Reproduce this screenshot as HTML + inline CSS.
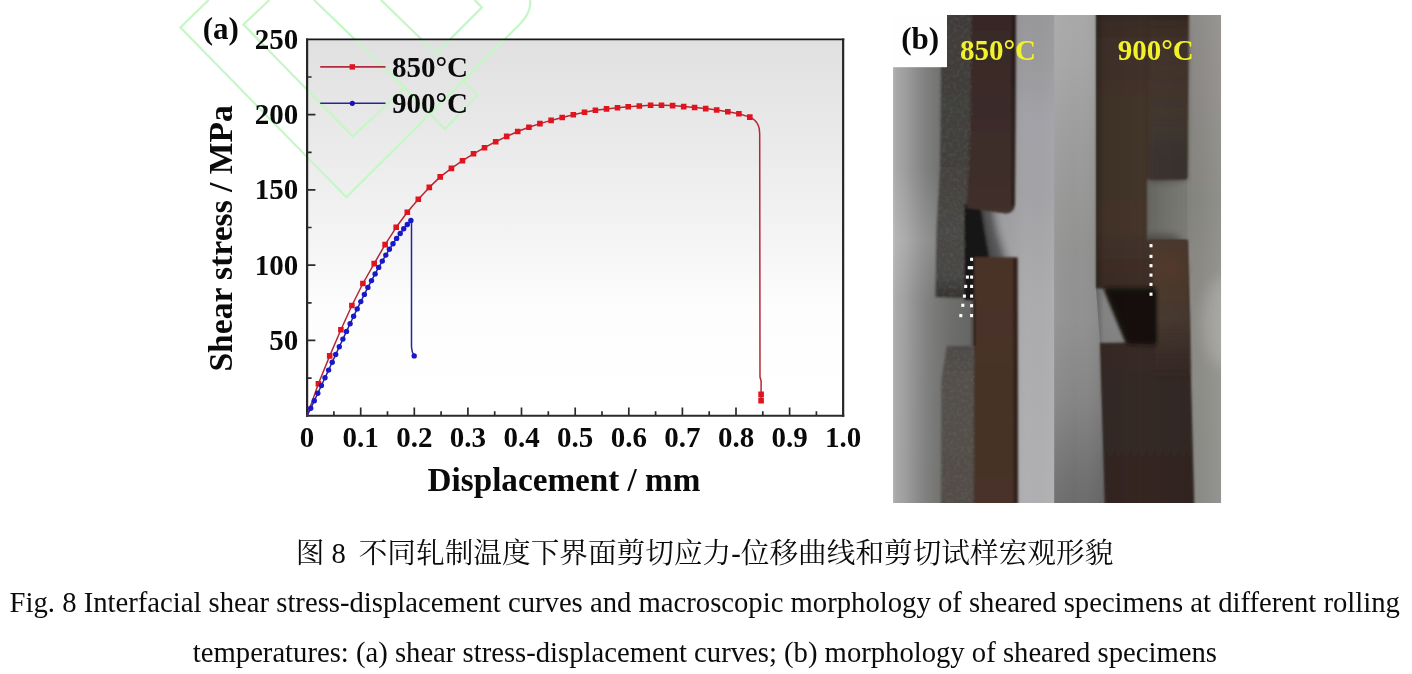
<!DOCTYPE html>
<html lang="zh">
<head>
<meta charset="utf-8">
<title>Fig. 8</title>
<style>
html,body{margin:0;padding:0;background:#ffffff;}
body{width:1412px;height:674px;position:relative;overflow:hidden;font-family:"Liberation Serif","Noto Serif CJK SC",serif;}
svg{position:absolute;left:0;top:0;display:block;}
</style>
</head>
<body>
<svg width="1412" height="674" viewBox="0 0 1412 674">
<defs>
<linearGradient id="pbg" x1="0" y1="0" x2="0" y2="1"><stop offset="0" stop-color="#e0e0e0"/><stop offset="0.3" stop-color="#ebebeb"/><stop offset="0.55" stop-color="#f5f5f5"/><stop offset="0.72" stop-color="#fdfdfd"/><stop offset="1" stop-color="#ffffff"/></linearGradient>
</defs>
<rect x="307.1" y="39.4" width="536.1" height="376.3" fill="url(#pbg)"/>
<g fill="none" stroke="#c6f6c6" stroke-width="2.2" stroke-linejoin="miter">
<path d="M208.6,0 L180.4,27.4 L346.4,197.3 L520,24 Q532,11 530,0"/>
<path d="M269.4,0 L243.4,24.5 L352.9,136.5 L404.8,87.5 L314,0"/>
<path d="M404.8,87.5 L444.9,129.1 L477.5,95 L461,78.5 M437,54.5 L381,0"/>
<path d="M436,53.4 L482,7.4 L474.5,0"/>
</g>
<path d="M306,39.4 H844.3" stroke="#161616" stroke-width="1.7" fill="none"/>
<path d="M307.1,38.6 V416.8 M843.15,38.6 V416.8" stroke="#262626" stroke-width="2.2" fill="none"/>
<path d="M306,415.8 H844.3" stroke="#2a2a2a" stroke-width="2" fill="none"/>
<path d="M333.9,415.7 v-4.5 M360.7,415.7 v-8.3 M387.5,415.7 v-4.5 M414.3,415.7 v-8.3 M441.1,415.7 v-4.5 M467.9,415.7 v-8.3 M494.7,415.7 v-4.5 M521.5,415.7 v-8.3 M548.3,415.7 v-4.5 M575.2,415.7 v-8.3 M602.0,415.7 v-4.5 M628.8,415.7 v-8.3 M655.6,415.7 v-4.5 M682.4,415.7 v-8.3 M709.2,415.7 v-4.5 M736.0,415.7 v-8.3 M762.8,415.7 v-4.5 M789.6,415.7 v-8.3 M816.4,415.7 v-4.5 M307.1,378.1 h4.5 M307.1,340.4 h8.3 M307.1,302.8 h4.5 M307.1,265.2 h8.3 M307.1,227.5 h4.5 M307.1,189.9 h8.3 M307.1,152.3 h4.5 M307.1,114.7 h8.3 M307.1,77.0 h4.5" stroke="#2a2a2a" stroke-width="1.7" fill="none"/>
<g font-family="'Liberation Serif', serif" font-weight="bold" font-size="29px" fill="#0a0a0a">
<text x="307.1" y="447.3" text-anchor="middle">0</text>
<text x="360.7" y="447.3" text-anchor="middle">0.1</text>
<text x="414.3" y="447.3" text-anchor="middle">0.2</text>
<text x="467.9" y="447.3" text-anchor="middle">0.3</text>
<text x="521.5" y="447.3" text-anchor="middle">0.4</text>
<text x="575.2" y="447.3" text-anchor="middle">0.5</text>
<text x="628.8" y="447.3" text-anchor="middle">0.6</text>
<text x="682.4" y="447.3" text-anchor="middle">0.7</text>
<text x="736.0" y="447.3" text-anchor="middle">0.8</text>
<text x="789.6" y="447.3" text-anchor="middle">0.9</text>
<text x="843.2" y="447.3" text-anchor="middle">1.0</text>
<text x="298.3" y="349.7" text-anchor="end">50</text>
<text x="298.3" y="274.5" text-anchor="end">100</text>
<text x="298.3" y="199.2" text-anchor="end">150</text>
<text x="298.3" y="124.0" text-anchor="end">200</text>
<text x="298.3" y="48.7" text-anchor="end">250</text>
<text x="202.8" y="39.4" font-size="31px">(a)</text>
<text x="392" y="76.8">850°C</text>
<text x="392" y="113.2">900°C</text>
</g>
<g font-family="'Liberation Serif', serif" font-weight="bold" font-size="33.2px" fill="#0a0a0a">
<text x="564" y="490.6" text-anchor="middle">Displacement / mm</text>
<text transform="translate(232.1,238.4) rotate(-90)" text-anchor="middle" font-size="33.6px">Shear stress / MPa</text>
</g>
<path d="M320.2,66.9 H385.5" stroke="#b02c3a" stroke-width="1.6"/>
<rect x="349.6" y="64.2" width="5.4" height="5.4" fill="#de1622"/>
<path d="M320.2,103.3 H385.5" stroke="#26268e" stroke-width="1.6"/>
<circle cx="352.3" cy="103.3" r="2.6" fill="#1a10b4"/>
<polyline points="307.1,415.7 318.4,383.8 329.7,355.9 340.9,329.8 351.9,305.5 362.9,283.5 374.2,263.6 385.1,244.6 396.2,227.3 407.3,212.3 418.3,199.3 429.3,187.4 440.2,176.9 451.4,168.4 462.5,160.7 473.5,153.8 484.5,147.7 495.7,141.7 506.7,136.4 517.7,131.5 528.9,127.3 539.9,123.6 551.1,120.4 562.2,117.5 573.3,114.7 584.5,112.2 595.4,110.3 606.5,108.9 617.5,107.7 628.2,106.8 639.3,106.0 650.6,105.3 661.5,105.2 672.6,105.6 683.7,106.6 694.6,107.5 705.7,108.6 716.7,110.0 727.8,111.7 738.9,113.8 749.8,117.1 752.5,118.6 755.0,120.5 757.0,123.0 758.4,125.6 759.3,129.0 759.7,134.0 760.0,377.0 761.1,381.0 761.1,394.5 761.1,400.3" fill="none" stroke="#b42836" stroke-width="1.5" stroke-linejoin="round"/>
<path d="M315.6,381.0 h5.6 v5.6 h-5.6z M326.9,353.1 h5.6 v5.6 h-5.6z M338.1,327.0 h5.6 v5.6 h-5.6z M349.1,302.7 h5.6 v5.6 h-5.6z M360.1,280.7 h5.6 v5.6 h-5.6z M371.4,260.8 h5.6 v5.6 h-5.6z M382.3,241.8 h5.6 v5.6 h-5.6z M393.4,224.5 h5.6 v5.6 h-5.6z M404.5,209.5 h5.6 v5.6 h-5.6z M415.5,196.5 h5.6 v5.6 h-5.6z M426.5,184.6 h5.6 v5.6 h-5.6z M437.4,174.1 h5.6 v5.6 h-5.6z M448.6,165.6 h5.6 v5.6 h-5.6z M459.7,157.9 h5.6 v5.6 h-5.6z M470.7,151.0 h5.6 v5.6 h-5.6z M481.7,144.9 h5.6 v5.6 h-5.6z M492.9,138.9 h5.6 v5.6 h-5.6z M503.9,133.6 h5.6 v5.6 h-5.6z M514.9,128.7 h5.6 v5.6 h-5.6z M526.1,124.5 h5.6 v5.6 h-5.6z M537.1,120.8 h5.6 v5.6 h-5.6z M548.3,117.6 h5.6 v5.6 h-5.6z M559.4,114.7 h5.6 v5.6 h-5.6z M570.5,111.9 h5.6 v5.6 h-5.6z M581.7,109.4 h5.6 v5.6 h-5.6z M592.6,107.5 h5.6 v5.6 h-5.6z M603.7,106.1 h5.6 v5.6 h-5.6z M614.7,104.9 h5.6 v5.6 h-5.6z M625.4,104.0 h5.6 v5.6 h-5.6z M636.5,103.2 h5.6 v5.6 h-5.6z M647.8,102.5 h5.6 v5.6 h-5.6z M658.7,102.4 h5.6 v5.6 h-5.6z M669.8,102.8 h5.6 v5.6 h-5.6z M680.9,103.8 h5.6 v5.6 h-5.6z M691.8,104.7 h5.6 v5.6 h-5.6z M702.9,105.8 h5.6 v5.6 h-5.6z M713.9,107.2 h5.6 v5.6 h-5.6z M725.0,108.9 h5.6 v5.6 h-5.6z M736.1,111.0 h5.6 v5.6 h-5.6z M747.0,114.3 h5.6 v5.6 h-5.6z M758.3,391.6 h5.6 v5.6 h-5.6z M758.3,397.8 h5.6 v5.6 h-5.6z" fill="#e0141e"/>
<polyline points="307.1,415.7 310.7,408.3 314.3,400.8 317.8,393.2 321.4,385.5 325.0,377.8 328.6,370.1 332.2,362.3 335.7,354.5 339.3,346.8 342.9,339.1 346.5,331.4 350.1,323.8 353.6,316.3 357.2,308.9 360.8,301.6 364.4,294.4 367.9,287.4 371.5,280.6 375.1,273.9 378.7,267.4 382.3,261.1 385.8,255.1 389.4,249.3 393.0,243.7 396.6,238.4 400.2,233.5 403.7,228.8 407.3,224.5 410.9,220.5 411.5,221.0 411.5,347.0 412.3,352.0 414.2,355.9" fill="none" stroke="#2424a0" stroke-width="1.5" stroke-linejoin="round"/>
<g fill="#1818c8"><circle cx="310.7" cy="408.3" r="2.7"/><circle cx="314.3" cy="400.8" r="2.7"/><circle cx="317.8" cy="393.2" r="2.7"/><circle cx="321.4" cy="385.5" r="2.7"/><circle cx="325.0" cy="377.8" r="2.7"/><circle cx="328.6" cy="370.1" r="2.7"/><circle cx="332.2" cy="362.3" r="2.7"/><circle cx="335.7" cy="354.5" r="2.7"/><circle cx="339.3" cy="346.8" r="2.7"/><circle cx="342.9" cy="339.1" r="2.7"/><circle cx="346.5" cy="331.4" r="2.7"/><circle cx="350.1" cy="323.8" r="2.7"/><circle cx="353.6" cy="316.3" r="2.7"/><circle cx="357.2" cy="308.9" r="2.7"/><circle cx="360.8" cy="301.6" r="2.7"/><circle cx="364.4" cy="294.4" r="2.7"/><circle cx="367.9" cy="287.4" r="2.7"/><circle cx="371.5" cy="280.6" r="2.7"/><circle cx="375.1" cy="273.9" r="2.7"/><circle cx="378.7" cy="267.4" r="2.7"/><circle cx="382.3" cy="261.1" r="2.7"/><circle cx="385.8" cy="255.1" r="2.7"/><circle cx="389.4" cy="249.3" r="2.7"/><circle cx="393.0" cy="243.7" r="2.7"/><circle cx="396.6" cy="238.4" r="2.7"/><circle cx="400.2" cy="233.5" r="2.7"/><circle cx="403.7" cy="228.8" r="2.7"/><circle cx="407.3" cy="224.5" r="2.7"/><circle cx="410.9" cy="220.5" r="2.7"/><circle cx="414.2" cy="355.9" r="2.7"/></g>
<g font-family="'Liberation Serif', 'Noto Serif CJK SC', serif" font-size="28.66px" fill="#0c0c0c">
<text x="295.65" y="562.9">图 8</text>
<text x="358.7" y="562.9">不同轧制温度下界面剪切应力-位移曲线和剪切试样宏观形貌</text>
<text x="9.55" y="611.9" font-size="28.685px">Fig. 8 Interfacial shear stress-displacement curves and macroscopic morphology of sheared specimens at different rolling</text>
<text x="192.85" y="662">temperatures: (a) shear stress-displacement curves; (b) morphology of sheared specimens</text>
</g>
<defs>
<clipPath id="pc"><rect x="893" y="15" width="328.2" height="488"/></clipPath>
<clipPath id="rough"><path d="M940,10 L973,10 L973,130 L967,208 L966,298 L935,297 L937,200 L939.5,130 Z M947,346 L975,346 L975,510 L941,510 L941.5,380 Z"/></clipPath>
<filter id="b1" x="-40%" y="-40%" width="180%" height="180%"><feGaussianBlur stdDeviation="1"/></filter>
<filter id="b2" x="-40%" y="-40%" width="180%" height="180%"><feGaussianBlur stdDeviation="2"/></filter>
<filter id="b4" x="-40%" y="-40%" width="180%" height="180%"><feGaussianBlur stdDeviation="4.2"/></filter>
<filter id="b3" x="-40%" y="-40%" width="180%" height="180%"><feGaussianBlur stdDeviation="3.5"/></filter>
<filter id="b6" x="-40%" y="-40%" width="180%" height="180%"><feGaussianBlur stdDeviation="7"/></filter>
<filter id="bd" x="-40%" y="-40%" width="180%" height="180%"><feGaussianBlur stdDeviation="0.5"/></filter>
<filter id="noise" x="0" y="0" width="100%" height="100%" color-interpolation-filters="sRGB">
<feTurbulence type="fractalNoise" baseFrequency="0.28" numOctaves="2" seed="7" result="n"/>
<feColorMatrix type="matrix" values="0 0 0 0 0.62  0 0 0 0 0.59  0 0 0 0 0.56  2.2 0 0 0 -0.95"/>
<feGaussianBlur stdDeviation="0.5"/>
</filter>
<linearGradient id="lbgL" gradientUnits="userSpaceOnUse" x1="893" y1="0" x2="972" y2="0"><stop offset="0.000" stop-color="#b4b4b4"/><stop offset="0.038" stop-color="#a8a8a8"/><stop offset="0.152" stop-color="#9e9e9e"/><stop offset="0.278" stop-color="#8f8f8f"/><stop offset="0.405" stop-color="#818181"/><stop offset="0.532" stop-color="#777775"/><stop offset="0.722" stop-color="#6c6c6a"/><stop offset="1.000" stop-color="#626260"/></linearGradient>
<linearGradient id="lbgLv" gradientUnits="userSpaceOnUse" x1="0" y1="15" x2="0" y2="503"><stop offset="0.000" stop-color="#fff" stop-opacity="0"/><stop offset="0.318" stop-color="#fff" stop-opacity="0"/><stop offset="0.461" stop-color="#fff" stop-opacity="0.14"/><stop offset="0.584" stop-color="#fff" stop-opacity="0.02"/><stop offset="1.000" stop-color="#fff" stop-opacity="0"/></linearGradient>
<linearGradient id="lbgR" gradientUnits="userSpaceOnUse" x1="0" y1="15" x2="0" y2="503"><stop offset="0.000" stop-color="#98989a"/><stop offset="0.092" stop-color="#9b9b9d"/><stop offset="0.215" stop-color="#a2a2a8"/><stop offset="0.359" stop-color="#a3a3a7"/><stop offset="0.584" stop-color="#acacae"/><stop offset="0.789" stop-color="#aeaeb0"/><stop offset="0.953" stop-color="#b0b0b2"/><stop offset="1.000" stop-color="#b0b0b2"/></linearGradient>
<linearGradient id="lbgRh" gradientUnits="userSpaceOnUse" x1="1010" y1="0" x2="1054.2" y2="0"><stop offset="0.000" stop-color="#000" stop-opacity="0.04"/><stop offset="0.362" stop-color="#000" stop-opacity="0"/><stop offset="1.000" stop-color="#fff" stop-opacity="0.03"/></linearGradient>
<linearGradient id="rbgL" gradientUnits="userSpaceOnUse" x1="0" y1="15" x2="0" y2="503"><stop offset="0.000" stop-color="#a8a8a8"/><stop offset="0.092" stop-color="#a6a6a6"/><stop offset="0.277" stop-color="#9b9b9b"/><stop offset="0.482" stop-color="#929291"/><stop offset="0.625" stop-color="#919191"/><stop offset="0.789" stop-color="#858585"/><stop offset="0.953" stop-color="#707070"/><stop offset="1.000" stop-color="#6c6c6c"/></linearGradient>
<linearGradient id="rbgLh" gradientUnits="userSpaceOnUse" x1="1054.2" y1="0" x2="1100" y2="0"><stop offset="0.000" stop-color="#fff" stop-opacity="0.04"/><stop offset="0.454" stop-color="#fff" stop-opacity="0"/><stop offset="1.000" stop-color="#000" stop-opacity="0.05"/></linearGradient>
<linearGradient id="rbgR" gradientUnits="userSpaceOnUse" x1="0" y1="15" x2="0" y2="503"><stop offset="0.000" stop-color="#8c8a86"/><stop offset="0.154" stop-color="#8a8784"/><stop offset="0.379" stop-color="#84847e"/><stop offset="0.625" stop-color="#8c8a86"/><stop offset="0.789" stop-color="#8a8a84"/><stop offset="0.953" stop-color="#888884"/><stop offset="1.000" stop-color="#888884"/></linearGradient>
<linearGradient id="rbgRh" gradientUnits="userSpaceOnUse" x1="1189" y1="0" x2="1221.2" y2="0"><stop offset="0.000" stop-color="#fff" stop-opacity="0"/><stop offset="0.342" stop-color="#fff" stop-opacity="0.02"/><stop offset="1.000" stop-color="#fff" stop-opacity="0.1"/></linearGradient>
<linearGradient id="lsp" gradientUnits="userSpaceOnUse" x1="0" y1="15" x2="0" y2="503"><stop offset="0.000" stop-color="#382826"/><stop offset="0.174" stop-color="#3b2c29"/><stop offset="0.338" stop-color="#3e2e2a"/><stop offset="0.406" stop-color="#42302b"/></linearGradient>
<linearGradient id="lsp2" gradientUnits="userSpaceOnUse" x1="0" y1="15" x2="0" y2="503"><stop offset="0.496" stop-color="#483128"/><stop offset="0.625" stop-color="#4a3229"/><stop offset="0.748" stop-color="#473228"/><stop offset="1.000" stop-color="#483329"/></linearGradient>
<linearGradient id="lro" gradientUnits="userSpaceOnUse" x1="0" y1="15" x2="0" y2="503"><stop offset="0.000" stop-color="#3f3b3a"/><stop offset="0.174" stop-color="#413f3c"/><stop offset="0.322" stop-color="#44423f"/><stop offset="0.441" stop-color="#4a4846"/><stop offset="0.535" stop-color="#474745"/><stop offset="0.580" stop-color="#343230"/></linearGradient>
<linearGradient id="lro2" gradientUnits="userSpaceOnUse" x1="0" y1="15" x2="0" y2="503"><stop offset="0.678" stop-color="#4e4a47"/><stop offset="0.748" stop-color="#54504c"/><stop offset="1.000" stop-color="#524e49"/></linearGradient>
<linearGradient id="rsp" gradientUnits="userSpaceOnUse" x1="0" y1="15" x2="0" y2="503"><stop offset="0.000" stop-color="#382c28"/><stop offset="0.051" stop-color="#3f3029"/><stop offset="0.174" stop-color="#43342a"/><stop offset="0.441" stop-color="#44352b"/><stop offset="0.506" stop-color="#402f28"/><stop offset="0.568" stop-color="#3c2d27"/><stop offset="0.672" stop-color="#3a2c27"/><stop offset="0.738" stop-color="#362a26"/><stop offset="1.000" stop-color="#342824"/></linearGradient>
<linearGradient id="rspR" gradientUnits="userSpaceOnUse" x1="0" y1="15" x2="0" y2="503"><stop offset="0.000" stop-color="#4a3a30" stop-opacity="0"/><stop offset="0.092" stop-color="#4a3a30" stop-opacity="0.5"/><stop offset="0.236" stop-color="#423a34" stop-opacity="0.8"/><stop offset="0.277" stop-color="#3c3632" stop-opacity="1"/><stop offset="0.336" stop-color="#3a3531" stop-opacity="1"/></linearGradient>
<linearGradient id="rblk" gradientUnits="userSpaceOnUse" x1="0" y1="15" x2="0" y2="503"><stop offset="0.461" stop-color="#4e3a2e" stop-opacity="1"/><stop offset="0.568" stop-color="#4e3a2e" stop-opacity="1"/><stop offset="0.625" stop-color="#4a3c32" stop-opacity="1"/><stop offset="0.676" stop-color="#443630" stop-opacity="0.7"/><stop offset="0.717" stop-color="#3e302a" stop-opacity="0.3"/><stop offset="0.748" stop-color="#3a2c28" stop-opacity="0"/></linearGradient>
<linearGradient id="notchh" gradientUnits="userSpaceOnUse" x1="1146" y1="0" x2="1192" y2="0"><stop offset="0.000" stop-color="#000" stop-opacity="0.24"/><stop offset="0.413" stop-color="#000" stop-opacity="0.12"/><stop offset="0.870" stop-color="#000" stop-opacity="0.02"/><stop offset="1.000" stop-color="#000" stop-opacity="0"/></linearGradient>
<linearGradient id="shl" gradientUnits="userSpaceOnUse" x1="965" y1="0" x2="1004" y2="0"><stop offset="0.000" stop-color="#0c0c0c"/><stop offset="0.385" stop-color="#121212"/><stop offset="0.590" stop-color="#2c2c2e" stop-opacity="0.8"/><stop offset="0.795" stop-color="#606064" stop-opacity="0.4"/><stop offset="1.000" stop-color="#808084" stop-opacity="0"/></linearGradient>
<linearGradient id="shl2" gradientUnits="userSpaceOnUse" x1="915" y1="0" x2="976" y2="0"><stop offset="0.000" stop-color="#000" stop-opacity="0"/><stop offset="0.328" stop-color="#000" stop-opacity="0.14"/><stop offset="0.738" stop-color="#000" stop-opacity="0.34"/><stop offset="1.000" stop-color="#000" stop-opacity="0.5"/></linearGradient>
<linearGradient id="redge" gradientUnits="userSpaceOnUse" x1="1096" y1="0" x2="1189" y2="0"><stop offset="0.000" stop-color="#000" stop-opacity="0.28"/><stop offset="0.086" stop-color="#000" stop-opacity="0.05"/><stop offset="0.473" stop-color="#000" stop-opacity="0"/><stop offset="1.000" stop-color="#000" stop-opacity="0.06"/></linearGradient>
<radialGradient id="glow" gradientUnits="userSpaceOnUse" cx="1170" cy="268" r="24"><stop offset="0" stop-color="#6a3a2c" stop-opacity="0.3"/><stop offset="1" stop-color="#6a3a2c" stop-opacity="0"/></radialGradient>
</defs>
<g id="photo" clip-path="url(#pc)">
<rect x="893" y="15" width="80" height="488" fill="url(#lbgL)"/>
<rect x="893" y="15" width="80" height="488" fill="url(#lbgLv)"/>
<rect x="972.5" y="15" width="83" height="488" fill="url(#lbgR)"/>
<rect x="972.5" y="15" width="83" height="488" fill="url(#lbgRh)"/>
<rect x="1054.2" y="15" width="80" height="488" fill="url(#rbgL)"/>
<rect x="1054.2" y="15" width="80" height="488" fill="url(#rbgLh)"/>
<rect x="1134" y="15" width="87.2" height="488" fill="url(#rbgR)"/>
<rect x="1189" y="15" width="32.2" height="488" fill="url(#rbgRh)"/>
<rect x="1140" y="176" width="52" height="68" fill="url(#notchh)" filter="url(#b2)"/>
<g filter="url(#b3)" fill="#000"><ellipse cx="1162" cy="240" rx="20" ry="6" opacity="0.3"/><ellipse cx="1166" cy="180" rx="20" ry="4" opacity="0.15"/></g>
<ellipse cx="1224" cy="322" rx="22" ry="45" fill="#fff" opacity="0.16" filter="url(#b6)"/>
<path d="M962,196 L990,196 L996,230 L1007,266 L962,266 Z" fill="#1a1a1c" opacity="0.62" filter="url(#b4)"/>
<path d="M962,198 L979,198 L983,230 L990,264 L962,264 Z" fill="#1a1a1a" filter="url(#b2)"/>
<g filter="url(#b1)">
<path d="M941,5 L1015.5,5 L1015,205 Q1014,213 1006,213.5 L966,208 L965,298 L935.5,297 L936.5,230 L939.8,172 L940.5,130 L941,60 L941,5 Z" fill="url(#lro)"/>
<path d="M964.5,204 L979,204 L988,257 L976,257 L976,300 L964.5,300 Z" fill="#181717"/>
<path d="M971.5,5 L1016,5 L1015,204 Q1014,213 1006,213.5 L966.5,208 L970,130 Z" fill="url(#lsp)"/>
<path d="M974.5,257 L1017.4,257.5 L1018,515 L941,515 L941.5,380 L947,346 L974.5,346 Z" fill="url(#lro2)"/>
<path d="M974.3,257 L1017.4,257.5 L1018,515 L973.5,515 Z" fill="url(#lsp2)"/>
<path d="M972.3,300 L975.5,300 L975.5,346 L972.3,346 Z" fill="#30261f"/>
<path d="M1011.5,15 L1016,15 L1015,204 L1011,208 Z M1013,258 L1017.6,258 L1018.2,503 L1013.5,503 Z" fill="#1a1210" opacity="0.45"/>
<path d="M1096,5 L1189,5 L1187,179 L1147,179.5 L1147,240 L1187.5,240 L1191,380 L1194.5,515 L1105,515 L1100,343 L1126,342.5 L1104,289 L1096,288 Z" fill="url(#rsp)"/>
</g>
<path d="M1150,15 L1189,15 L1187,179 L1150,179.5 Z" fill="url(#rspR)" filter="url(#b2)"/>
<path d="M1150,240 L1187.5,240 L1191,380 L1155,380 L1155,300 Z" fill="url(#rblk)" filter="url(#b1)"/>
<path d="M1104,288 L1156,288 L1156,345 L1127,344 Z" fill="#17120f" filter="url(#b2)"/>
<path d="M1110,292 L1155,292 L1155,342 L1130,342 Z" fill="#120e0c" filter="url(#b1)"/>
<path d="M1096,15 L1189,15 L1187,179 L1187.5,240 L1191,380 L1194.5,503 L1105,503 L1100,343 L1096,288 Z" fill="url(#redge)"/>
<circle cx="1170" cy="268" r="24" fill="url(#glow)"/>
<rect x="930" y="10" width="50" height="500" fill="#000" filter="url(#noise)" clip-path="url(#rough)" opacity="0.16"/>
<g fill="#fff" filter="url(#bd)"><rect x="970.1" y="257.7" width="3" height="3.2"/><rect x="970.1" y="266.1" width="3" height="3.2"/><rect x="970.1" y="275.5" width="3" height="3.2"/><rect x="970.1" y="284.8" width="3" height="3.2"/><rect x="970.1" y="294.5" width="3" height="3.2"/><rect x="970.1" y="304.1" width="3" height="3.2"/><rect x="970.1" y="314.0" width="3" height="3.2"/><rect x="967.7" y="266.1" width="3" height="3.2"/><rect x="965.9" y="275.5" width="3" height="3.2"/><rect x="964.2" y="284.8" width="3" height="3.2"/><rect x="962.9" y="294.5" width="3" height="3.2"/><rect x="961.3" y="303.7" width="3" height="3.2"/><rect x="959.3" y="314.0" width="3" height="3.2"/><rect x="1149.5" y="244.1" width="3" height="3.2"/><rect x="1149.5" y="254.8" width="3" height="3.2"/><rect x="1149.5" y="264.1" width="3" height="3.2"/><rect x="1149.5" y="273.5" width="3" height="3.2"/><rect x="1149.5" y="282.8" width="3" height="3.2"/><rect x="1149.5" y="292.6" width="3" height="3.2"/></g>
<rect x="893" y="15" width="54" height="52.2" fill="#fefefe"/>
<g font-family="'Liberation Serif', serif" font-weight="bold" font-size="29px">
<text x="901.2" y="49.4" font-size="31px" fill="#0a0a0a">(b)</text>
<text x="960" y="60.2" fill="#f2f22c">850°C</text>
<text x="1117.7" y="60.1" fill="#f2f22c">900°C</text>
</g>
</g>

</svg>
</body>
</html>
